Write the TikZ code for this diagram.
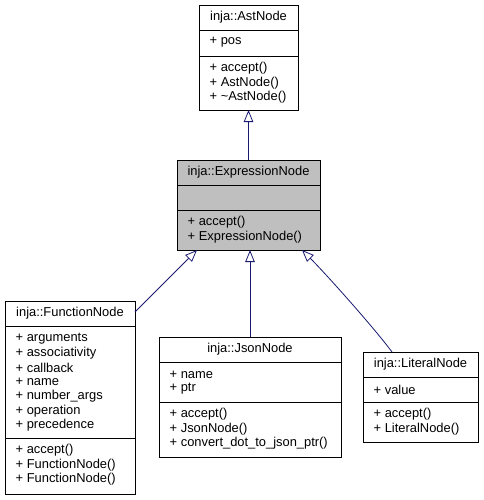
\documentclass[tikz,border=0pt]{standalone}
\usepackage{fontspec}
\setmainfont{Liberation Sans}
\usetikzlibrary{arrows.meta,calc}
\definecolor{edgeblue}{HTML}{191970}
\definecolor{hlgray}{HTML}{BFBFBF}
\tikzset{
  classbox/.style={draw=black, line width=0.8pt, inner sep=0pt, outer sep=0pt, rectangle},
  sepline/.style={draw=black, line width=0.8pt},
  title/.style={inner sep=0pt, font=\fontsize{12.9pt}{14.5pt}\selectfont},
  member/.style={inner sep=0pt, anchor=west, font=\fontsize{12.9pt}{14.5pt}\selectfont},
  inherit/.style={draw=edgeblue, line width=0.8pt, -{Triangle[open, length=12pt, width=9.5pt, line width=0.8pt]}}
}
\begin{document}
\begin{tikzpicture}[x=1pt, y=-1pt]
\useasboundingbox (0,0) rectangle (483,500);
% inja::AstNode  l=199 r=298 t=5 b=110
\node[classbox, minimum width=99pt, minimum height=105pt] (ast) at (248.5,57.5) {};
\draw[sepline] (199,30) -- (298,30);
\draw[sepline] (199,56) -- (298,56);
\node[title] (ast-t) at (248.5,17.5) {inja::AstNode};
\node[member] (ast-a1) at (209.5,42.5) {+ pos};
\node[member] (ast-m1) at (209.5,68.5) {+ accept()};
\node[member] (ast-m2) at (209.5,83) {+ AstNode()};
\node[member] (ast-m3) at (209.5,97.5) {+ \char"007E AstNode()};
% inja::ExpressionNode l=177 r=320 t=160 b=250
\node[classbox, fill=hlgray, minimum width=143pt, minimum height=90pt] (expr) at (248.5,205) {};
\draw[sepline] (177,185) -- (320,185);
\draw[sepline] (177,210) -- (320,210);
\node[title] (expr-t) at (248.5,172.5) {inja::ExpressionNode};
\node[member] (expr-m1) at (187.5,222.5) {+ accept()};
\node[member] (expr-m2) at (187.5,237) {+ ExpressionNode()};
% inja::FunctionNode l=5 r=135 t=301 b=494
\node[classbox, minimum width=130pt, minimum height=193pt] (func) at (70,397.5) {};
\draw[sepline] (5,326) -- (135,326);
\draw[sepline] (5,438) -- (135,438);
\node[title] (func-t) at (70,313.5) {inja::FunctionNode};
\node[member] (func-a1) at (15.5,338.5) {+ arguments};
\node[member] (func-a2) at (15.5,353) {+ associativity};
\node[member] (func-a3) at (15.5,367.5) {+ callback};
\node[member] (func-a4) at (15.5,382) {+ name};
\node[member] (func-a5) at (15.5,396.5) {+ number\_args};
\node[member] (func-a6) at (15.5,411) {+ operation};
\node[member] (func-a7) at (15.5,425.5) {+ precedence};
\node[member] (func-m1) at (15.5,450.5) {+ accept()};
\node[member] (func-m2) at (15.5,465) {+ FunctionNode()};
\node[member] (func-m3) at (15.5,479.5) {+ FunctionNode()};
% inja::JsonNode l=159 r=341 t=337 b=457
\node[classbox, minimum width=182pt, minimum height=120pt] (json) at (250,397) {};
\draw[sepline] (159,362) -- (341,362);
\draw[sepline] (159,402) -- (341,402);
\node[title] (json-t) at (250,349.5) {inja::JsonNode};
\node[member] (json-a1) at (169.5,374.5) {+ name};
\node[member] (json-a2) at (169.5,389) {+ ptr};
\node[member] (json-m1) at (169.5,414.5) {+ accept()};
\node[member] (json-m2) at (169.5,429) {+ JsonNode()};
\node[member] (json-m3) at (169.5,443.5) {+ convert\_dot\_to\_json\_ptr()};
% inja::LiteralNode l=363 r=478 t=352 b=442
\node[classbox, minimum width=115pt, minimum height=90pt] (lit) at (420.5,397) {};
\draw[sepline] (363,377) -- (478,377);
\draw[sepline] (363,402) -- (478,402);
\node[title] (lit-t) at (420.5,364.5) {inja::LiteralNode};
\node[member] (lit-a1) at (373.5,389.5) {+ value};
\node[member] (lit-m1) at (373.5,414.5) {+ accept()};
\node[member] (lit-m2) at (373.5,429) {+ LiteralNode()};
% inheritance connectors
\draw[inherit] (expr.north) -- (ast.south);
\draw[inherit] (json.north) -- (json.north |- expr.south);
\draw[inherit] ($(func.north east)+(0,11)$) -- ($(expr.south west)+(20,0)$);
\draw[inherit] ($(lit.north west)+(29,0)$) .. controls ($(lit.north west)+(12,-23)$) and ($(expr.south east)+(7,25)$) .. ($(expr.south east)+(-18,0)$);
\end{tikzpicture}
\end{document}
